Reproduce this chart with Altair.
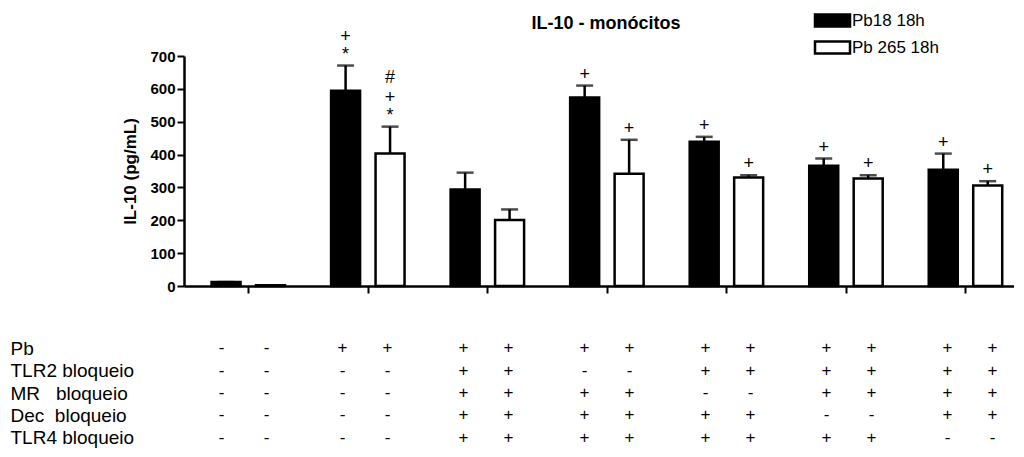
import altair as alt
import pandas as pd

FONT = "Liberation Sans"

# ---- data ----
groups = [0, 1, 2, 3, 4, 5, 6]
series_names = ["Pb18 18h", "Pb 265 18h"]
pb18_mean = [12, 594, 294, 574, 439, 366, 354]
pb18_sem = [0, 77, 51, 36, 15, 22, 49]
pb265_mean = [2, 403, 201, 342, 330, 327, 306]
pb265_sem = [0, 82, 32, 103, 7, 10, 13]
# significance symbols stacked above each bar, listed from top to bottom
pb18_marks = [[], ["+", "*"], [], ["+"], ["+"], ["+"], ["+"]]
pb265_marks = [[], ["#", "+", "*"], [], ["+"], ["+"], ["+"], ["+"]]
y_ticks = [0, 100, 200, 300, 400, 500, 600, 700]

row_labels = ["Pb", "TLR2 bloqueio", "MR\u00a0\u00a0\u00a0bloqueio",
              "Dec\u00a0\u00a0bloqueio", "TLR4 bloqueio"]
pb_row = ["-", "+", "+", "+", "+", "+", "+"]
tlr2_row = ["-", "-", "+", "-", "+", "+", "+"]
mr_row = ["-", "-", "+", "+", "-", "+", "+"]
dec_row = ["-", "-", "+", "+", "+", "-", "+"]
tlr4_row = ["-", "-", "+", "+", "+", "+", "-"]
table_rows = [pb_row, tlr2_row, mr_row, dec_row, tlr4_row]

# ---- tables ----
bar_records = []
ann_records = []
for g in groups:
    for s, means, sems, marks in ((series_names[0], pb18_mean, pb18_sem, pb18_marks),
                                  (series_names[1], pb265_mean, pb265_sem, pb265_marks)):
        upper = means[g] + sems[g]
        bar_records.append({"g": g, "series": s, "mean": means[g], "upper": upper})
        stack = marks[g]
        for i, sym in enumerate(stack):
            level = len(stack) - 1 - i  # 0 = closest to the bar
            ann_records.append({"g": g, "series": s, "upper": upper,
                                "sym": sym, "level": level})
bars_df = pd.DataFrame(bar_records)
ann_df = pd.DataFrame(ann_records)

tab_records = []
for label, signs in zip(row_labels, table_rows):
    for g in groups:
        for s in series_names:
            tab_records.append({"row": label, "g": g, "series": s, "sign": signs[g]})
tab_df = pd.DataFrame(tab_records)

pos_expr = "datum.g + (datum.series == 'Pb18 18h' ? -0.186 : 0.186)"
xscale = alt.Scale(domain=[-0.496, 6.364], nice=False, zero=False)
yscale = alt.Scale(domain=[0, 700], nice=False)

x_axis = alt.Axis(values=groups, labels=False, title=None, grid=False,
                  tickSize=7, tickWidth=2, tickColor="black",
                  domainWidth=2.5, domainColor="black")
y_axis = alt.Axis(values=y_ticks, tickCount=8,
                  title="IL-10 (pg/mL)", titleFontSize=17, titleFontWeight="bold",
                  titleColor="black", titlePadding=10,
                  labelFontSize=15, labelFontWeight="bold", labelColor="black",
                  labelOverlap=False, labelPadding=2, tickSize=7, tickWidth=2,
                  tickColor="black", domainWidth=2.5, domainColor="black", grid=False)


def X():
    return alt.X("pos:Q", scale=xscale, axis=x_axis)


def Y(field):
    return alt.Y(field, scale=yscale, axis=y_axis)


base = alt.Chart(bars_df).transform_calculate(pos=pos_expr)

bars = base.mark_bar(size=29, stroke="black", strokeWidth=2.5).encode(
    x=X(),
    y=Y("mean:Q"),
    fill=alt.Fill("series:N",
                  scale=alt.Scale(domain=series_names, range=["black", "white"]),
                  legend=alt.Legend(title=None, orient="none", legendX=640, legendY=-44,
                                    padding=0, labelFontSize=17, labelColor="black",
                                    symbolType="M-2.5,-0.85H2.5V0.85H-2.5Z",
                                    symbolSize=196, symbolStrokeColor="black",
                                    symbolStrokeWidth=2.5, labelOffset=11,
                                    rowPadding=4)),
)

err = base.mark_rule(strokeWidth=2.5, color="black").encode(
    x=X(), y=Y("mean:Q"), y2="upper:Q")

caps = base.mark_tick(orient="horizontal", size=17, thickness=2.5, color="black").encode(
    x=X(), y=Y("upper:Q"))

ann_base = alt.Chart(ann_df).transform_calculate(pos=pos_expr)
ann_layers = []
for level, dy in ((0, -6), (1, -24), (2, -44)):
    ann_layers.append(
        ann_base.transform_filter(alt.datum.level == level)
        .mark_text(baseline="alphabetic", dy=dy, fontSize=18, color="black")
        .encode(x=X(), y=Y("upper:Q"), text="sym:N")
    )

top = alt.layer(bars, err, caps, *ann_layers).properties(
    width=830, height=230,
    title=alt.TitleParams("IL-10 - monócitos", fontSize=18, fontWeight="bold",
                          anchor="middle", frame="group", offset=-5, dx=7,
                          color="black"),
)

bottom = alt.Chart(tab_df).transform_calculate(pos=pos_expr).mark_text(
    fontSize=17, color="black").encode(
    x=alt.X("pos:Q", scale=xscale, axis=None),
    y=alt.Y("row:N", sort=row_labels, scale=alt.Scale(domain=row_labels),
            axis=alt.Axis(title=None, domain=False, ticks=False, tickSize=0,
                          labelAlign="left", labelPadding=174, labelFontSize=19,
                          labelColor="black", grid=False)),
    text="sign:N",
).properties(width=830, height=112)

chart = alt.vconcat(top, bottom, spacing=43).properties(
    padding={"left": 2, "top": 4, "right": 0, "bottom": 0}
).configure(font=FONT).configure_view(stroke=None)

chart.save("out.html", embed_options={"renderer": "svg", "actions": False})
